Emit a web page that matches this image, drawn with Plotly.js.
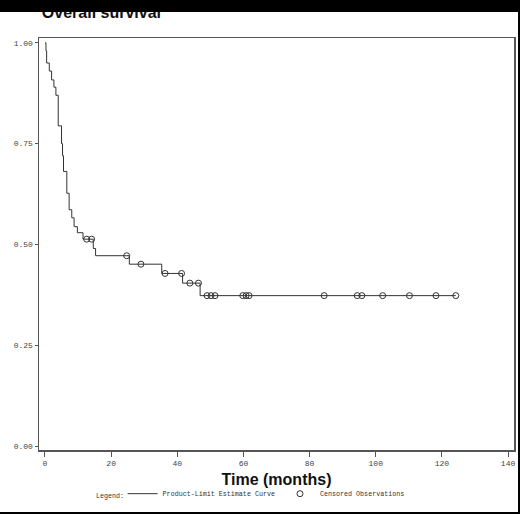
<!DOCTYPE html>
<html>
<head>
<meta charset="utf-8">
<script src="https://cdn.plot.ly/plotly-3.0.1.min.js"></script>
<style>
    html, body { margin: 0; padding: 0; background: #000; }
    #chart { position: absolute; left: 0; top: 12px; width: 518px; height: 500px; }
    #topbar { position: absolute; left: 0; top: 0; width: 520px; height: 12px; background: #000; z-index: 10; }
</style>
</head>
<body>
<div id="topbar"></div>
<div id="chart"></div>
<script>
// Kaplan-Meier steps (months, survival)
const eventTimes = [0.3, 0.5, 1.3, 2.0, 2.7, 3.3, 4.0, 5.0, 5.3, 5.6, 6.6, 7.3, 8.1, 8.8, 9.8, 11.5, 14.6, 15.3, 25.5, 35.3, 41.6, 46.9];
const eventSurv = [0.98, 0.95, 0.93, 0.908, 0.89, 0.87, 0.794, 0.75, 0.72, 0.681, 0.627, 0.586, 0.566, 0.544, 0.529, 0.513, 0.49, 0.472, 0.451, 0.428, 0.404, 0.373];

// censored observations
const censTimes = [12.6, 14.1, 24.7, 29.0, 36.3, 41.3, 43.8, 46.4, 49.0, 50.2, 51.4, 59.8, 60.8, 61.7, 84.4, 94.4, 95.8, 102.1, 110.2, 118.2, 124.2];
const censSurv = [0.513, 0.513, 0.472, 0.451, 0.428, 0.428, 0.404, 0.404, 0.373, 0.373, 0.373, 0.373, 0.373, 0.373, 0.373, 0.373, 0.373, 0.373, 0.373, 0.373, 0.373];

const xTicks = [0, 20, 40, 60, 80, 100, 120, 140];
const yTicks = [0, 0.25, 0.5, 0.75, 1.0];
const yTickText = ["0.00", "0.25", "0.50", "0.75", "1.00"];

const mono = "Liberation Mono, Courier New, monospace";
const ink = "#333";

// step curve runs from t=0 to the last censored time
const lastT = censTimes[censTimes.length - 1];
const curveX = [0, ...eventTimes, lastT];
const curveY = [1, ...eventSurv, eventSurv[eventSurv.length - 1]];

const curve = {
    x: curveX,
    y: curveY,
    mode: "lines",
    line: {shape: "hv", color: ink, width: 1},
    name: "Product-Limit Estimate Curve"
};

const censored = {
    x: censTimes,
    y: censSurv,
    mode: "markers",
    marker: {symbol: "circle-open", size: 6, color: ink, line: {width: 1, color: ink}},
    name: "Censored Observations"
};

const layout = {
    width: 518,
    height: 500,
    margin: {l: 39, r: 4, t: 26, b: 62, autoexpand: false},
    paper_bgcolor: "white",
    plot_bgcolor: "white",
    title: {
        text: "Overall survival",
        font: {family: "Liberation Sans, Arial, sans-serif", size: 16, weight: "bold", color: "#111"},
        xref: "paper",
        x: 0.006,
        xanchor: "left",
        yref: "container",
        y: 0.988,
        yanchor: "bottom"
    },
    xaxis: {
        range: [-1.81, 141.8],
        tickvals: xTicks,
        ticks: "outside",
        ticklen: 5,
        tickcolor: "#555",
        tickfont: {family: mono, size: 8, color: "#444"},
        showgrid: false,
        zeroline: false,
        showline: true,
        linecolor: "#555",
        linewidth: 1.5,
        mirror: true,
        title: {
            text: "Time (months)",
            font: {family: "Liberation Sans, Arial, sans-serif", size: 16, weight: "bold", color: "#111"},
            standoff: 6
        }
    },
    yaxis: {
        range: [-0.0099, 1.012],
        tickvals: yTicks,
        ticktext: yTickText,
        ticks: "outside",
        ticklen: 3,
        tickcolor: "#555",
        tickfont: {family: mono, size: 8, color: "#444"},
        showgrid: false,
        zeroline: false,
        showline: true,
        linecolor: "#555",
        linewidth: 1.5,
        mirror: true
    },
    showlegend: true,
    legend: {
        orientation: "h",
        x: 0.176,
        xanchor: "left",
        y: -0.106,
        yanchor: "middle",
        font: {family: mono, size: 6.7, color: "#333"},
        itemwidth: 30,
        tracegroupgap: 0
    },
    annotations: [{
        text: "Legend:",
        xref: "paper",
        yref: "paper",
        x: 0.116,
        y: -0.112,
        xanchor: "left",
        yanchor: "middle",
        showarrow: false,
        font: {family: mono, size: 6.7, color: "#333"}
    }]
};

Plotly.newPlot("chart", [curve, censored], layout, {displayModeBar: false, staticPlot: true});
</script>
</body>
</html>
